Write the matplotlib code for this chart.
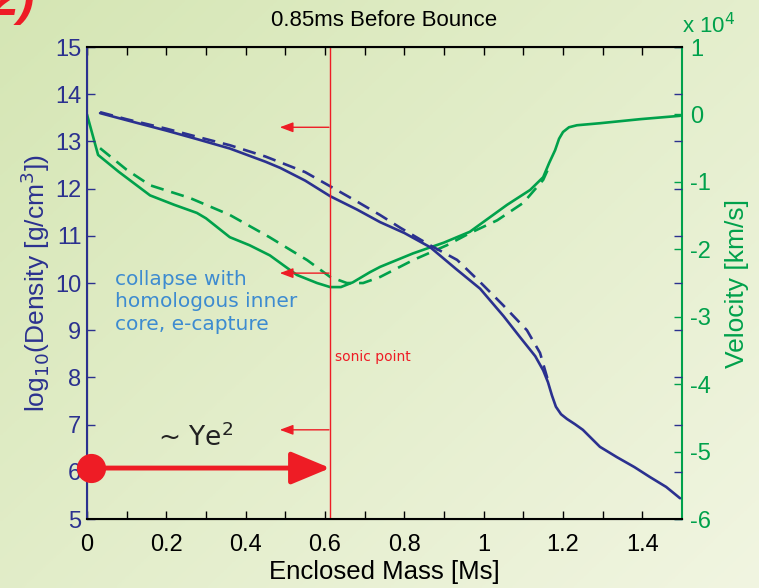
import numpy as np
import matplotlib
matplotlib.use("Agg")
import matplotlib.pyplot as plt

plt.rcParams['font.family'] = ['Liberation Sans', 'DejaVu Sans']

NAVY = "#2b318f"
GREEN = "#00a14b"
RED = "#ee1c25"
BLUE_TXT = "#3d8bd0"

# Density profile (log10 g/cm^3) vs enclosed mass
mass_rho = [0.033, 0.10, 0.20, 0.277, 0.36, 0.45, 0.487, 0.55, 0.613, 0.68, 0.739,
            0.80, 0.865, 0.93, 0.991, 1.05, 1.091, 1.13, 1.15, 1.162, 1.172, 1.182,
            1.195, 1.21, 1.23, 1.25, 1.293, 1.336, 1.38, 1.419, 1.46, 1.495]
rho = [13.60, 13.45, 13.23, 13.05, 12.85, 12.57, 12.44, 12.17, 11.84, 11.56, 11.29,
       11.06, 10.76, 10.30, 9.88, 9.30, 8.86, 8.45, 8.15, 7.90, 7.62, 7.38,
       7.22, 7.12, 7.01, 6.89, 6.53, 6.31, 6.10, 5.89, 5.68, 5.44]

mass_rho_d = [0.033, 0.10, 0.20, 0.277, 0.36, 0.45, 0.55, 0.613, 0.68, 0.739, 0.79,
              0.865, 0.933, 0.991, 1.049, 1.109, 1.142, 1.162]
rho_d = [13.62, 13.47, 13.27, 13.10, 12.92, 12.68, 12.35, 12.05, 11.73, 11.44, 11.17,
         10.80, 10.49, 10.02, 9.53, 9.00, 8.52, 7.94]

# Velocity profile (10^4 km/s) vs enclosed mass
mass_v = [0.0, 0.028, 0.08, 0.159, 0.22, 0.277, 0.30, 0.36, 0.41, 0.461, 0.529, 0.58,
          0.613, 0.64, 0.67, 0.713, 0.739, 0.822, 0.90, 0.965, 1.059, 1.117, 1.15,
          1.165, 1.18, 1.19, 1.20, 1.215, 1.235, 1.293, 1.394, 1.495]
vel = [0.0, -0.60, -0.85, -1.20, -1.34, -1.46, -1.54, -1.82, -1.94, -2.09, -2.38, -2.50,
       -2.56, -2.56, -2.49, -2.34, -2.26, -2.06, -1.90, -1.74, -1.34, -1.12, -0.93,
       -0.72, -0.53, -0.36, -0.26, -0.19, -0.16, -0.13, -0.07, -0.02]

mass_v_d = [0.033, 0.10, 0.159, 0.26, 0.36, 0.46, 0.555, 0.613, 0.655, 0.696, 0.739,
            0.822, 0.907, 0.965, 1.034, 1.10, 1.15, 1.163]
vel_d = [-0.50, -0.82, -1.05, -1.24, -1.49, -1.82, -2.16, -2.41, -2.50, -2.50, -2.41,
         -2.16, -1.94, -1.76, -1.57, -1.31, -0.97, -0.80]

sonic_mass = 0.613
arrow_rho = [13.3, 10.21, 6.89]
xticks = [0, 0.2, 0.4, 0.6, 0.8, 1, 1.2, 1.4]
xticklabels = ["0", "0.2", "0.4", "0.6", "0.8", "1", "1.2", "1.4"]
vticks = [-6, -5, -4, -3, -2, -1, 0, 1]
vticklabels = ["-6", "-5", "-4", "-3", "-2", "-1", "0", "1"]

fig = plt.figure(figsize=(7.59, 5.88), dpi=100)

# soft green gradient backdrop
bg = fig.add_axes([0, 0, 1, 1], zorder=-10)
gy, gx = np.mgrid[0:1:200j, 0:1:200j]
t = 0.55 * gx + 0.45 * gy
c0 = np.array([0xd5, 0xe6, 0xb4]) / 255
c1 = np.array([0xf1, 0xf5, 0xe1]) / 255
img = c0[None, None, :] * (1 - t[..., None]) + c1[None, None, :] * t[..., None]
bg.imshow(img, aspect="auto", extent=[0, 1, 0, 1], origin="upper")
bg.axis("off")

ax = fig.add_axes([0.1146, 0.1173, 0.784, 0.8027])
ax2 = ax.twinx()
ax.set_zorder(ax2.get_zorder() + 1)
ax.patch.set_visible(False)
ax2.patch.set_facecolor("white")

line_kw = dict(lw=1.9, solid_joinstyle="round", solid_capstyle="round")
ax.plot(mass_rho, rho, color=NAVY, **line_kw)
ax.plot(mass_rho_d, rho_d, color=NAVY, lw=1.9, dashes=(5, 3))
ax2.plot(mass_v, vel, color=GREEN, **line_kw)
ax2.plot(mass_v_d, vel_d, color=GREEN, lw=1.9, dashes=(5, 3))

ax.set_xlim(0, 1.5)
ax.set_ylim(5, 15)
ax2.set_ylim(-6, 1)

ax.set_xticks(xticks)
ax.set_xticklabels(xticklabels)
ax.set_xticks(np.arange(0.1, 1.5, 0.2), minor=True)
ax.set_yticks(range(5, 16))
ax2.set_yticks(vticks)
ax2.set_yticklabels(vticklabels)

ax.tick_params(axis="both", which="both", direction="in", length=6, width=1,
               top=True, right=True, labelsize=17)
ax.tick_params(axis="x", colors="black", pad=11)
ax.tick_params(axis="y", colors=NAVY, labelcolor=NAVY, pad=4)
ax2.tick_params(axis="y", direction="in", length=6, width=1, colors=GREEN,
                labelcolor=GREEN, labelsize=17, pad=6)

for s in ["top", "bottom"]:
    ax.spines[s].set_color("black")
    ax.spines[s].set_linewidth(1.5)
ax.spines["left"].set_color(NAVY)
ax.spines["left"].set_linewidth(1.5)
ax2.spines["right"].set_color(GREEN)
ax2.spines["right"].set_linewidth(1.5)
ax.spines["right"].set_visible(False)

ax.set_xlabel("Enclosed Mass [Ms]", fontsize=18.5, labelpad=3)
ax.set_ylabel(r"log$_{10}$(Density [g/cm$^3$])", fontsize=19, color=NAVY, labelpad=2)
ax2.set_ylabel("Velocity [km/s]", fontsize=19, color=GREEN, labelpad=10)
ax.set_title("0.85ms Before Bounce", fontsize=16, pad=15)
fig.text(0.899, 0.943, r"x 10$^4$", color=GREEN, fontsize=16, ha="left", va="baseline")

# sonic point marker and inward-pointing arrows
ax.axvline(sonic_mass, color=RED, lw=1)
for r in arrow_rho:
    ax.annotate("", xy=(0.486, r), xytext=(sonic_mass - 0.003, r),
                arrowprops=dict(arrowstyle="-|>,head_length=0.8,head_width=0.3",
                                color=RED, lw=1, shrinkA=0, shrinkB=0))
ax.text(0.625, 8.43, "sonic point", color=RED, fontsize=10, va="center", ha="left",
        family="DejaVu Sans")

ax.text(0.071, 9.6, "collapse with\nhomologous inner\ncore, e-capture",
        color=BLUE_TXT, fontsize=14.5, va="center", ha="left", linespacing=1.25,
        family="DejaVu Sans")

# Ye^2 scaling arrow
ye_rho = 6.08
ax.annotate("", xy=(sonic_mass, ye_rho), xytext=(0.01, ye_rho),
            arrowprops=dict(arrowstyle="-|>,head_length=1.2,head_width=0.5",
                            color=RED, lw=3.5, shrinkA=0, shrinkB=0,
                            mutation_scale=20))
ax.plot([0.01], [ye_rho], "o", color=RED, ms=20, clip_on=False, zorder=5)
ax.text(0.18, 6.72, r"~ Ye$^{2}$", fontsize=19, color="#222222", va="center", ha="left",
        family="DejaVu Sans")

fig.text(-0.012, 0.975, "2)", color=RED, fontsize=36, fontweight="bold",
         style="italic", ha="left", va="baseline")

fig.savefig("out.png", dpi=100)
